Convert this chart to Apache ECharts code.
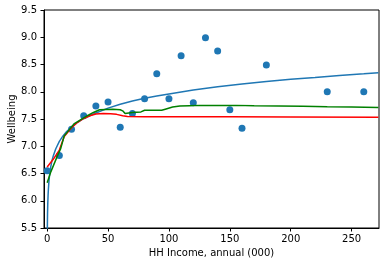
<!DOCTYPE html>
<html>
<head>
<meta charset="utf-8">
<script src="https://cdn.jsdelivr.net/npm/echarts@6/dist/echarts.min.js"></script>
<style>html,body{margin:0;padding:0;background:#fff}#c{width:389px;height:266px}</style>
</head>
<body>
<div id="c"></div>
<script>
// Observed points: income (000) and wellbeing
var incomeX = [0, 10, 20, 30, 40, 50, 60, 70, 80, 90, 100, 110, 120, 130, 140, 150, 160, 180, 230, 260];
var wellbeingY = [6.55, 6.83, 7.31, 7.56, 7.74, 7.81, 7.35, 7.60, 7.87, 8.33, 7.87, 8.66, 7.80, 8.99, 8.75, 7.67, 7.33, 8.49, 8.00, 8.00];

// Blue fitted curve
var blueX = [0.12, 0.2, 0.3, 0.5, 0.75, 1, 1.5, 2, 3, 4, 5, 7, 10, 13, 16, 20, 25, 30, 40, 50, 60, 70, 80, 90, 100, 120, 140, 160, 180, 200, 220, 240, 260, 272];
var blueY = [5.40, 5.60, 5.76, 5.95, 6.10, 6.21, 6.37, 6.48, 6.63, 6.74, 6.82, 6.95, 7.09, 7.19, 7.27, 7.35, 7.44, 7.51, 7.61, 7.70, 7.77, 7.83, 7.88, 7.92, 7.96, 8.03, 8.09, 8.14, 8.19, 8.23, 8.26, 8.30, 8.33, 8.35];

// Green smoothed line
var greenX = [0, 3, 8, 11, 14, 18, 22, 27, 33, 38, 43, 54, 60, 62, 64, 70, 77, 80, 94, 97, 103, 109, 117, 125, 155, 170, 190, 210, 230, 250, 272];
var greenY = [6.33, 6.53, 6.80, 6.95, 7.19, 7.30, 7.41, 7.48, 7.56, 7.62, 7.67, 7.68, 7.67, 7.65, 7.60, 7.62, 7.63, 7.66, 7.66, 7.68, 7.72, 7.74, 7.745, 7.75, 7.75, 7.745, 7.74, 7.735, 7.725, 7.72, 7.71];

// Red smoothed line
var redX = [0, 5, 10, 14, 20, 25, 30, 35, 40, 46, 52, 57, 62, 66, 80, 100, 150, 200, 272];
var redY = [6.62, 6.76, 6.93, 7.18, 7.34, 7.44, 7.51, 7.56, 7.59, 7.60, 7.595, 7.585, 7.56, 7.545, 7.54, 7.54, 7.54, 7.537, 7.533];

var xTicks = [0, 50, 100, 150, 200, 250];

function zip(a, b) { return a.map(function (v, i) { return [v, b[i]]; }); }

var chart = echarts.init(document.getElementById('c'), null, {renderer: 'canvas'});
var font = 'DejaVu Sans';
chart.setOption({
  animation: false,
  textStyle: {fontFamily: font},
  grid: {left: 44, right: 10, top: 10, bottom: 38, show: true, borderColor: '#000', borderWidth: 1, containLabel: false, outerBoundsMode: 'none'},
  xAxis: {
    type: 'value', min: -2.6, max: 272.5,
    name: 'HH Income, annual (000)', nameLocation: 'middle', nameGap: 20, nameMoveOverlap: false,
    nameTextStyle: {fontSize: 10, color: '#000', fontFamily: font},
    axisLine: {show: true, onZero: false, lineStyle: {color: '#000', width: 1}},
    axisTick: {show: true, length: 3.5, lineStyle: {color: '#000'}, customValues: xTicks},
    axisLabel: {fontSize: 10, color: '#000', margin: 6, fontFamily: font, customValues: xTicks},
    splitLine: {show: false}
  },
  yAxis: {
    type: 'value', min: 5.5, max: 9.5, interval: 0.5,
    name: 'Wellbeing', nameLocation: 'middle', nameGap: 27, nameRotate: 90, nameMoveOverlap: false,
    nameTextStyle: {fontSize: 10, color: '#000', fontFamily: font},
    axisLine: {show: true, onZero: false, lineStyle: {color: '#000', width: 1}},
    axisTick: {show: true, length: 3.5, lineStyle: {color: '#000'}},
    axisLabel: {fontSize: 10, color: '#000', margin: 7, fontFamily: font, formatter: function (v) { return v.toFixed(1); }},
    splitLine: {show: false}
  },
  series: [
    {type: 'scatter', data: zip(incomeX, wellbeingY), symbolSize: 7, itemStyle: {color: '#1f77b4', opacity: 1}, z: 1},
    {type: 'line', data: zip(blueX, blueY), showSymbol: false, symbol: 'none', lineStyle: {color: '#1f77b4', width: 1.5}, clip: true, z: 2},
    {type: 'line', data: zip(redX, redY), showSymbol: false, symbol: 'none', lineStyle: {color: '#ff0000', width: 1.5}, clip: true, z: 3},
    {type: 'line', data: zip(greenX, greenY), showSymbol: false, symbol: 'none', lineStyle: {color: '#008000', width: 1.5}, clip: true, z: 4}
  ]
});
</script>
</body>
</html>
